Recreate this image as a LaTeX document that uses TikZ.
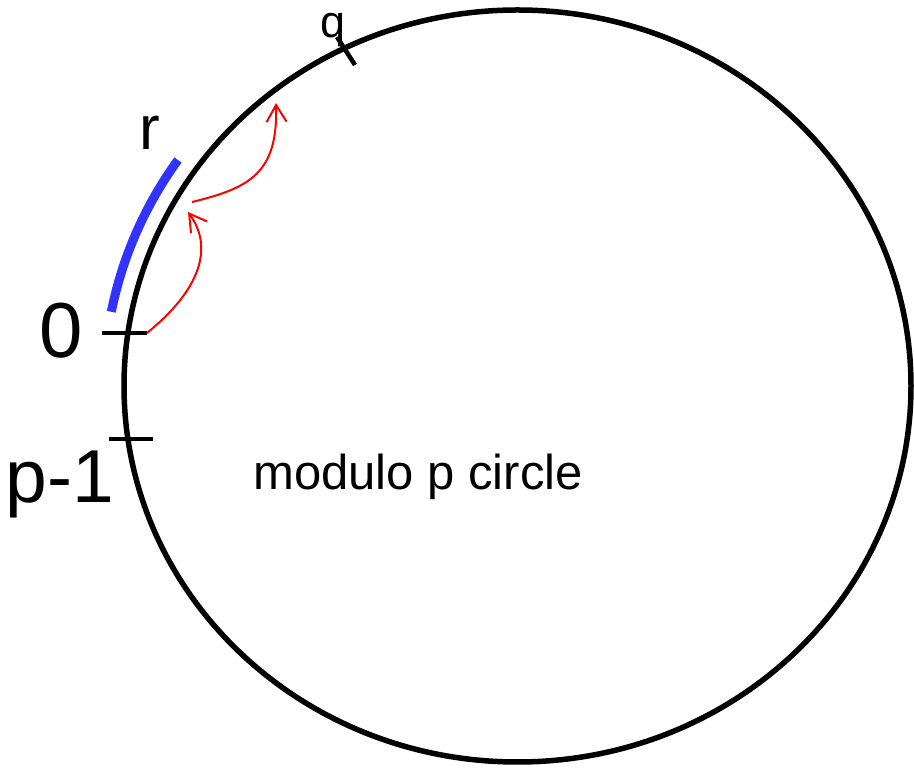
\documentclass[tikz,border=0pt]{standalone}
\usepackage{fontspec}
\setmainfont{Liberation Sans}
\usetikzlibrary{arrows.meta,calc}
\definecolor{ink}{HTML}{000000}
\definecolor{bar}{HTML}{3333FF}
\definecolor{hopred}{HTML}{FF0000}
\tikzset{
  ring/.style={draw=ink, line width=5.5pt},
  notch/.style={draw=ink, line width=4.5pt},
  span/.style={draw=bar, line width=9pt},
  hop/.style={draw=hopred, line width=2pt,
    -{Straight Barb[length=17pt,width=20pt,line width=2pt]}},
  lbl/.style={inner sep=0pt, anchor=base}
}

\begin{document}
\begin{tikzpicture}[x=1pt,y=1pt]
  \useasboundingbox (0,0) rectangle (914,768);
  \coordinate (c) at (517.5,382);
  \draw[ring] (c) ellipse [x radius=393.5, y radius=376];
  % ticks on the circle
  \coordinate (z0) at (102,435); \coordinate (z1) at (147,435);
  \coordinate (m0) at (109,329); \coordinate (m1) at (153,329);
  \coordinate (q0) at (337,731); \coordinate (q1) at (355,703);
  \draw[notch] (z0) -- (z1);
  \draw[notch] (m0) -- (m1);
  \draw[notch] (q0) -- (q1);
  % range 0..r
  \draw[span] ($(c)+(169.2:413.5 and 396)$)
    arc[start angle=169.2, end angle=145.2, x radius=413.5, y radius=396];
  % steps
  \coordinate (h1) at (188,556);
  \coordinate (s2) at (192,566);
  \coordinate (h2) at (276,665);
  \draw[hop] (z1) .. controls (200,478) and (214,520) .. (h1);
  \draw[hop] (s2) .. controls (250,580) and (278,595) .. (h2);
  % labels
  \node[lbl, font=\fontsize{78}{78}\selectfont] (zero) at (61,410) {0};
  \node[lbl, font=\fontsize{75}{75}\selectfont] (pm1) at (60,265) {p-1};
  \node[lbl, font=\fontsize{62}{62}\selectfont] (r) at (150,618) {r};
  \node[lbl, font=\fontsize{45}{45}\selectfont] (q) at (333,730) {q};
  \node[lbl, anchor=base west, font=\fontsize{49}{49}\selectfont] (title) at (253,278) {modulo p circle};
\end{tikzpicture}
\end{document}
